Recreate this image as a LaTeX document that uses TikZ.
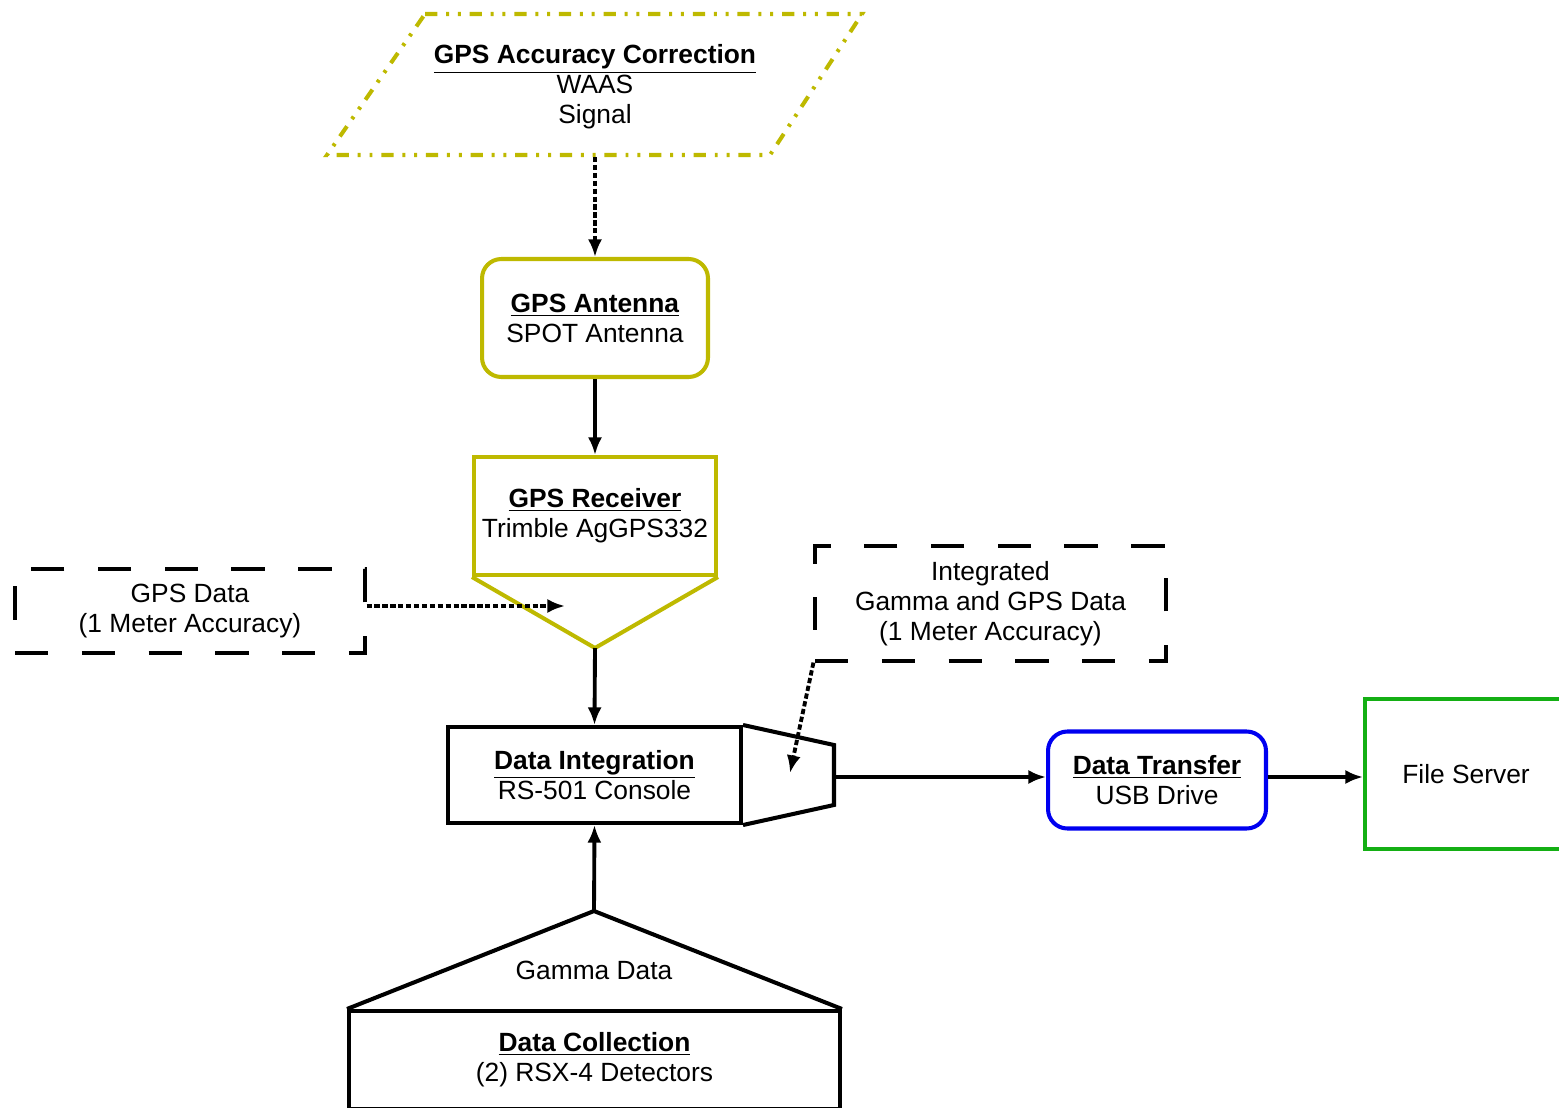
\documentclass[tikz,border=0pt]{standalone}
\usepackage{fontspec}
\setmainfont{Liberation Sans}
\usetikzlibrary{arrows.meta}
\definecolor{gpsolive}{RGB}{190,185,0}
\definecolor{xferblue}{RGB}{0,0,240}
\definecolor{srvgreen}{RGB}{20,175,20}
\newcommand{\ttl}[1]{\underline{\textbf{#1}}}

\begin{document}
\begin{tikzpicture}[x=0.02cm, y=-0.02cm,
  every node/.style = {align=center, inner sep=0pt,
    font=\fontsize{15}{17}\selectfont},
  olivebox/.style = {draw=gpsolive, line width=2.3pt},
  blackbox/.style = {draw, line width=2.3pt},
  databox/.style = {draw, line width=1.8pt, dash pattern=on 19pt off 19pt},
  flow/.style = {line width=2.2pt, -{Latex[length=10pt,width=8pt]}},
  dotflow/.style = {flow, dash pattern=on 3pt off 1.5pt}]

  \useasboundingbox (0,0) rectangle (1559,1108);

  % gps chain
  \draw[olivebox, dash pattern=on 7pt off 5pt on 1.7pt off 5pt on 1.7pt off 5pt]
    (425,14) -- (862,14) -- (770,155) -- (327,155) -- cycle;
  \node (corr) at (595,87) {\ttl{GPS Accuracy Correction}\\WAAS\\Signal};
  \coordinate (corrout) at (595,157);

  \node[olivebox, rounded corners=11pt, minimum width=4.52cm, minimum height=2.36cm]
    (ant) at (595,318) {\ttl{GPS Antenna}\\SPOT Antenna};

  \node[olivebox, minimum width=4.84cm, minimum height=2.36cm]
    (rx) at (595,516) {\ttl{GPS Receiver}\\Trimble AgGPS332};
  \coordinate (rxtip) at (595,648);
  \draw[olivebox] (rx.south west) -- (rxtip) -- (rx.south east);

  \node[databox, minimum width=7cm, minimum height=1.68cm]
    (gpsdata) at (190,611) {GPS Data\\(1 Meter Accuracy)};
  \coordinate (rxin) at (565,606);

  % integration and transfer
  \node[blackbox, minimum width=5.86cm, minimum height=1.92cm]
    (integ) at (594.5,775) {\ttl{Data Integration}\\RS-501 Console};
  \draw[blackbox] (integ.north east) -- (834,745) -- (834,805) -- (integ.south east);
  \coordinate (integout) at (834,777);
  \coordinate (integin) at (790,773);

  \node[databox, minimum width=7.02cm, minimum height=2.3cm]
    (intdata) at (990.5,603.5) {Integrated\\Gamma and GPS Data\\(1 Meter Accuracy)};

  \node[draw=xferblue, line width=2.3pt, rounded corners=11pt,
    minimum width=4.36cm, minimum height=1.94cm]
    (xfer) at (1157,780) {\ttl{Data Transfer}\\USB Drive};

  \node[draw=srvgreen, line width=2.3pt, minimum width=4.04cm, minimum height=3cm]
    (srv) at (1466,774) {File Server};

  % collection
  \node[blackbox, minimum width=9.82cm, minimum height=1.96cm]
    (coll) at (594.5,1060) {\ttl{Data Collection}\\(2) RSX-4 Detectors};
  \coordinate (colltip) at (594,911);
  \draw[blackbox] (coll.north west) -- (colltip) -- (coll.north east);
  \node (gamma) at (594,970) {Gamma Data};

  % connectors
  \draw[dotflow] (corrout) -- (ant.north);
  \draw[flow] (ant.south) -- (rx.north);
  \draw[flow] (rxtip) -- (integ.north);
  \draw[dotflow] (gpsdata.east |- rxin) -- (rxin);
  \draw[dotflow] (intdata.south west) -- (integin);
  \draw[flow] (integout) -- (integout -| xfer.west);
  \draw[flow] (integout -| xfer.east) -- (integout -| srv.west);
  \draw[flow] (colltip) -- (integ.south);
\end{tikzpicture}
\end{document}
